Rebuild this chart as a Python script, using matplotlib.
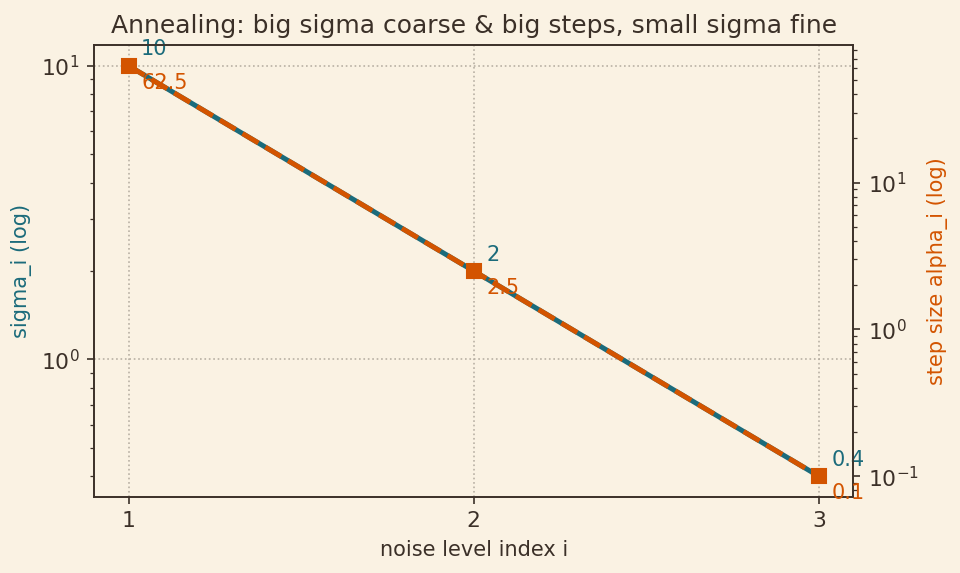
import matplotlib
matplotlib.use("Agg")
import matplotlib.pyplot as plt

levels = [1, 2, 3]
sigmas = [10, 2, 0.4]
alphas = [62.5, 2.5, 0.1]
sigma_labels = ["10", "2", "0.4"]
alpha_labels = ["62.5", "2.5", "0.1"]

BG = "#faf2e3"
INK = "#3b3028"
TEAL = "#1b6b7b"
ORANGE = "#d35400"

plt.rcParams.update({
    "font.family": "DejaVu Sans",
    "text.color": INK,
    "axes.labelcolor": INK,
    "xtick.color": INK,
    "ytick.color": INK,
    "axes.edgecolor": INK,
})

fig, ax = plt.subplots(figsize=(6.4, 3.82), dpi=150)
fig.patch.set_facecolor(BG)
ax.set_facecolor(BG)
fig.subplots_adjust(left=0.098, right=0.889, top=0.921, bottom=0.133)

ax.plot(levels, sigmas, color=TEAL, lw=2.4, marker="o", ms=6, zorder=2)
ax.set_yscale("log")
ax.set_xticks(levels)
ax.set_xlabel("noise level index i", fontsize=10)
ax.set_ylabel("sigma_i (log)", color=TEAL, fontsize=10)
ax.tick_params(labelsize=10.5)
ax.grid(True, which="major", linestyle=":", color="#b8b0a4", lw=0.8)
for x, y, t in zip(levels, sigmas, sigma_labels):
    ax.annotate(t, (x, y), xytext=(6, 5), textcoords="offset points",
                color=TEAL, fontsize=10)

ax2 = ax.twinx()
ax2.plot(levels, alphas, color=ORANGE, lw=2.4, ls="--", marker="s", ms=7, zorder=3)
ax2.set_yscale("log")
ax2.set_ylabel("step size alpha_i (log)", color=ORANGE, fontsize=10)
ax2.tick_params(labelsize=10.5)
for x, y, t in zip(levels, alphas, alpha_labels):
    ax2.annotate(t, (x, y), xytext=(6, -11), textcoords="offset points",
                 color=ORANGE, fontsize=10)

ax.set_title("Annealing: big sigma coarse & big steps, small sigma fine", fontsize=12, color=INK)

fig.savefig("out.png", dpi=150, facecolor=BG)
